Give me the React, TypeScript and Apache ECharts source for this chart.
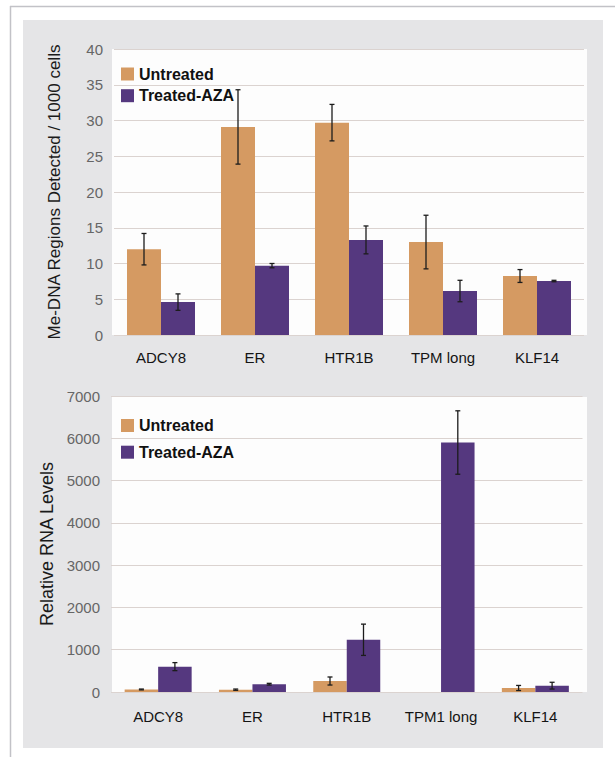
import React, { useEffect, useRef } from "react";
import * as echarts from "echarts";

// Gene regions shown on both panels
const dnaCategories = ["ADCY8", "ER", "HTR1B", "TPM long", "KLF14"];
const rnaCategories = ["ADCY8", "ER", "HTR1B", "TPM1 long", "KLF14"];

// Methylated DNA regions detected per 1000 cells
const dnaUntreated = [12.0, 29.1, 29.7, 13.0, 8.25];
const dnaUntreatedErr = [2.2, 5.2, 2.55, 3.75, 0.9];
const dnaTreated = [4.6, 9.7, 13.3, 6.15, 7.55];
const dnaTreatedErr = [1.15, 0.3, 1.95, 1.5, 0.1];

// Relative RNA levels
const rnaUntreated = [60, 55, 260, 0, 95];
const rnaUntreatedErr = [10, 15, 95, 0, 60];
const rnaTreated = [600, 185, 1235, 5900, 150];
const rnaTreatedErr = [95, 20, 370, 750, 80];

const dnaTicks = { min: 0, max: 40, interval: 5 };
const rnaTicks = { min: 0, max: 7000, interval: 1000 };

const legendNames = ["Untreated", "Treated-AZA"];

const ORANGE = "#d59a62";
const PURPLE = "#55387f";
const FONT = "'Liberation Sans', Arial, Helvetica, sans-serif";

const withErr = (vals: number[], errs: number[]) =>
  vals.map((v, i) => [i, v, errs[i]]);

// Error bar drawn at the horizontal centre of its bar (offset from category centre)
const errorBar = (offset: number) => (params: any, api: any) => {
  const cat = api.value(0);
  const val = api.value(1);
  const err = api.value(2);
  if (!err) return { type: "group", children: [] };
  const hi = api.coord([cat, val + err]);
  const lo = api.coord([cat, val - err]);
  const x = hi[0] + offset;
  const style = { stroke: "#1c1c1c", lineWidth: 1.3 };
  return {
    type: "group",
    children: [
      { type: "line", shape: { x1: x, y1: hi[1], x2: x, y2: lo[1] }, style },
      { type: "line", shape: { x1: x - 2.5, y1: hi[1], x2: x + 2.5, y2: hi[1] }, style },
      { type: "line", shape: { x1: x - 2.5, y1: lo[1], x2: x + 2.5, y2: lo[1] }, style },
    ],
  };
};

const yAxisBase = (name: string, nameGap: number, nameSize: number) => ({
  type: "value" as const,
  name,
  nameLocation: "middle" as const,
  nameRotate: 90,
  nameGap,
  nameTextStyle: { fontFamily: FONT, fontSize: nameSize, color: "#1a1a1a" },
  axisLine: { show: false },
  axisTick: { show: false },
  axisLabel: {
    fontFamily: FONT,
    fontSize: 15,
    color: "#666",
    margin: 11,
    formatter: (v: number) => String(v),
  },
  splitLine: { show: true, lineStyle: { color: "#dbd3d0", width: 1 } },
});

const xAxisBase = (data: string[], gridIndex: number, margin: number) => ({
  type: "category" as const,
  gridIndex,
  data,
  axisLine: { show: false },
  axisTick: { show: false },
  axisLabel: { fontFamily: FONT, fontSize: 15, color: "#141414", margin },
});

export default function App() {
  const ref = useRef<HTMLDivElement>(null);

  useEffect(() => {
    if (!ref.current) return;
    const chart = echarts.init(ref.current, null, { renderer: "svg" });

    const legendBase = {
      orient: "vertical" as const,
      left: 121,
      padding: 0,
      icon: "rect",
      itemWidth: 13,
      itemHeight: 13,
      selectedMode: false,
      data: legendNames,
      textStyle: {
        fontFamily: FONT,
        fontSize: 16,
        fontWeight: "bold" as const,
        color: "#111",
        lineHeight: 16,
      },
    };

    chart.setOption({
      animation: false,
      backgroundColor: "#ffffff",
      graphic: [
        {
          type: "line",
          z: -10,
          shape: { x1: 10, y1: 6.5, x2: 615, y2: 6.5 },
          style: { stroke: "#c2c2c7", lineWidth: 1.5 },
        },
        {
          type: "line",
          z: -10,
          shape: { x1: 10.5, y1: 6, x2: 10.5, y2: 757 },
          style: { stroke: "#c2c2c7", lineWidth: 1.5 },
        },
        {
          type: "rect",
          z: -10,
          shape: { x: 23, y: 20, width: 580, height: 728 },
          style: { fill: "#e5e5e7" },
        },
        {
          type: "rect",
          z: -9,
          shape: { x: 112, y: 49, width: 475, height: 286 },
          style: { fill: "#fdfdfd" },
        },
        {
          type: "rect",
          z: -9,
          shape: { x: 112, y: 397, width: 475, height: 295 },
          style: { fill: "#fdfdfd" },
        },
      ],
      legend: [
        { ...legendBase, top: 66, itemGap: 5.7 },
        { ...legendBase, top: 417.5, itemGap: 10.7 },
      ],
      grid: [
        { left: 114, top: 49, width: 470, height: 286 },
        { left: 111, top: 396, width: 471.5, height: 296 },
      ],
      xAxis: [
        xAxisBase(dnaCategories, 0, 15),
        xAxisBase(rnaCategories, 1, 17),
      ],
      yAxis: [
        { ...yAxisBase("Me-DNA Regions Detected / 1000 cells", 51, 17), gridIndex: 0, ...dnaTicks },
        { ...yAxisBase("Relative RNA Levels", 51, 18), gridIndex: 1, ...rnaTicks },
      ],
      series: [
        {
          name: "Untreated",
          type: "bar",
          xAxisIndex: 0,
          yAxisIndex: 0,
          data: dnaUntreated,
          barWidth: 34,
          barGap: "0%",
          itemStyle: { color: ORANGE },
        },
        {
          name: "Treated-AZA",
          type: "bar",
          xAxisIndex: 0,
          yAxisIndex: 0,
          data: dnaTreated,
          barWidth: 34,
          barGap: "0%",
          itemStyle: { color: PURPLE },
        },
        {
          name: "Untreated",
          type: "bar",
          xAxisIndex: 1,
          yAxisIndex: 1,
          data: rnaUntreated,
          barWidth: 33.5,
          barGap: "0%",
          itemStyle: { color: ORANGE },
        },
        {
          name: "Treated-AZA",
          type: "bar",
          xAxisIndex: 1,
          yAxisIndex: 1,
          data: rnaTreated,
          barWidth: 33.5,
          barGap: "0%",
          itemStyle: { color: PURPLE },
        },
        {
          type: "custom",
          xAxisIndex: 0,
          yAxisIndex: 0,
          z: 5,
          renderItem: errorBar(-17),
          data: withErr(dnaUntreated, dnaUntreatedErr),
        },
        {
          type: "custom",
          xAxisIndex: 0,
          yAxisIndex: 0,
          z: 5,
          renderItem: errorBar(17),
          data: withErr(dnaTreated, dnaTreatedErr),
        },
        {
          type: "custom",
          xAxisIndex: 1,
          yAxisIndex: 1,
          z: 5,
          renderItem: errorBar(-16.75),
          data: withErr(rnaUntreated, rnaUntreatedErr),
        },
        {
          type: "custom",
          xAxisIndex: 1,
          yAxisIndex: 1,
          z: 5,
          renderItem: errorBar(16.75),
          data: withErr(rnaTreated, rnaTreatedErr),
        },
      ],
    });

    return () => chart.dispose();
  }, []);

  return (
    <div
      ref={ref}
      style={{ position: "fixed", left: 0, top: 0, width: 615, height: 757, background: "#fff" }}
    />
  );
}
